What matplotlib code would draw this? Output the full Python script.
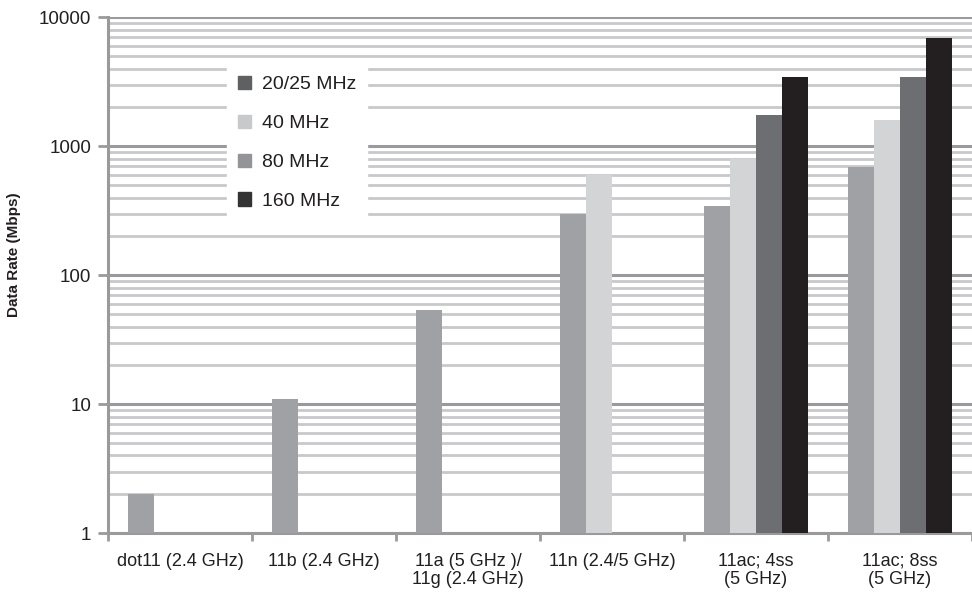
import matplotlib.pyplot as plt
import matplotlib.patches as mpatches
import numpy as np

plt.rcParams['font.family'] = ['Liberation Sans', 'DejaVu Sans']

categories = ['dot11 (2.4 GHz)', '11b (2.4 GHz)', '11a (5 GHz )/\n11g (2.4 GHz)',
              '11n (2.4/5 GHz)', '11ac; 4ss\n(5 GHz)', '11ac; 8ss\n(5 GHz)']

# bars in drawing order inside each group (None = no bar)
s80 = [2, 11, 54, 300, 347, 693]
s40 = [None, None, None, 600, 800, 1600]
s20 = [None, None, None, None, 1733, 3467]
s160 = [None, None, None, None, 3467, 6933]

series = [('80 MHz', s80, '#a0a1a4'),
          ('40 MHz', s40, '#d3d4d6'),
          ('20/25 MHz', s20, '#6d6e71'),
          ('160 MHz', s160, '#231f20')]

legend_order = [('20/25 MHz', '#5f6062'), ('40 MHz', '#c8c9cb'),
                ('80 MHz', '#939497'), ('160 MHz', '#333333')]

fig = plt.figure(figsize=(9.72, 5.95), dpi=100)
ax = fig.add_axes([0.111, 0.104, 0.889, 0.867])

x = np.arange(len(categories))
w = 0.18
for i, (name, vals, col) in enumerate(series):
    xs = [x[j] + (i - 1.5) * w for j in range(len(vals)) if vals[j] is not None]
    ys = [v for v in vals if v is not None]
    ax.bar(xs, ys, width=w, color=col, label=name, zorder=3)

ax.set_yscale('log')
ax.set_ylim(1, 10000)
ax.set_xlim(-0.5, len(categories) - 0.5)
ax.set_yticks([1, 10, 100, 1000, 10000])
ax.set_yticklabels(['1', '10', '100', '1000', '10000'])
ax.yaxis.set_minor_locator(plt.LogLocator(base=10, subs=np.arange(2, 10)))
ax.yaxis.set_minor_formatter(plt.NullFormatter())
ax.grid(True, which='major', axis='y', color='#9a9a9c', linewidth=2.2, zorder=1)
ax.grid(True, which='minor', axis='y', color='#c9c9cb', linewidth=2.0, zorder=1)
ax.set_axisbelow(True)

ax.set_xticks(np.arange(-0.5, len(categories)), minor=False)
ax.set_xticklabels([])
ax.set_xticks(x, minor=True)
ax.set_xticklabels(categories, minor=True, fontsize=13, color='#231f20',
                   linespacing=1.1)
ax.tick_params(axis='x', which='minor', length=0, pad=14)
ax.tick_params(axis='x', which='major', length=6, width=2, color='#9a9a9c')
ax.tick_params(axis='y', which='major', length=7, width=2, color='#9a9a9c',
               labelsize=13.5, labelcolor='#231f20', pad=5)
ax.tick_params(axis='y', which='minor', length=0)

for s in ['top', 'right']:
    ax.spines[s].set_visible(False)
for s in ['left', 'bottom']:
    ax.spines[s].set_color('#9a9a9c')
    ax.spines[s].set_linewidth(2.2)

ax.set_ylabel('Data Rate (Mbps)', fontsize=11, fontweight='bold',
              color='#231f20')
ax.yaxis.set_label_coords(-0.1, 0.539)

handles = [mpatches.Patch(color=c, label=n) for n, c in legend_order]
leg = ax.legend(handles=handles, loc='upper left', bbox_to_anchor=(0.138, 0.907),
                frameon=True, fancybox=False, framealpha=1, edgecolor='white',
                fontsize=14, handlelength=0.67, handleheight=0.67,
                handletextpad=0.55, labelspacing=1.1, borderpad=0.55,
                borderaxespad=0)
for t in leg.get_texts():
    t.set_color('#231f20')

fig.savefig('out.png', dpi=100)
